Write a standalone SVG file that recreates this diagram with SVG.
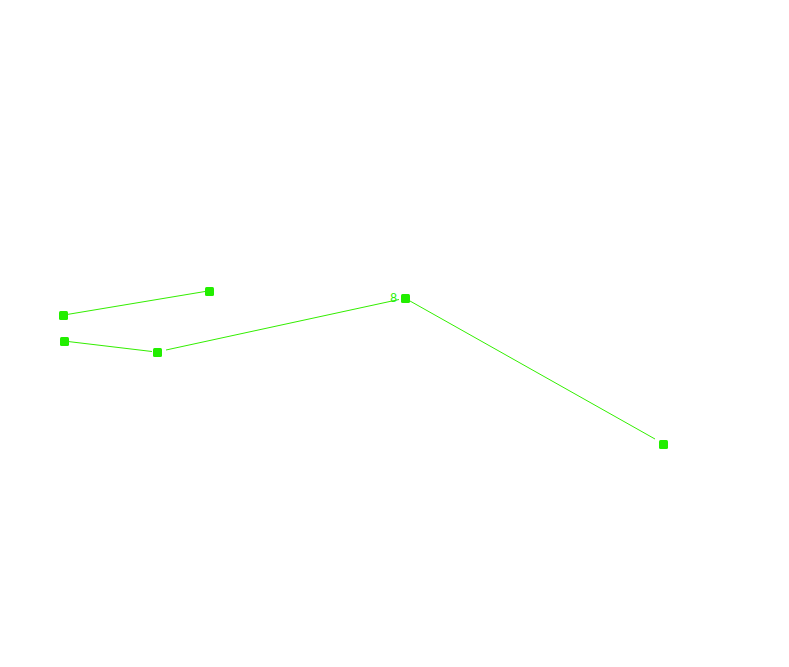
<svg xmlns="http://www.w3.org/2000/svg" width="789" height="667" viewBox="0 0 789 667">
<style>
.n{fill:#22ee00}
.e{stroke:#33ee00;stroke-width:1;fill:none}
.t{font-family:"Liberation Sans",Arial,sans-serif;font-size:12px;fill:#22ee00}
</style>
<rect width="789" height="667" fill="#fff"/>
<g id="connectors">
<line class="e" x1="67" y1="314.5" x2="205" y2="291.5"/>
<line class="e" x1="68" y1="341.5" x2="152" y2="351.5"/>
<line class="e" x1="166" y1="350" x2="399" y2="299.5"/>
<line class="e" x1="410" y1="301" x2="655" y2="439"/>
</g>
<g id="n1"><rect class="n" x="59" y="311" width="9" height="9" rx="1.5"/></g>
<g id="n2"><rect class="n" x="205" y="287" width="9" height="9" rx="1.5"/></g>
<g id="n3"><rect class="n" x="60" y="337" width="9" height="9" rx="1.5"/></g>
<g id="n4"><rect class="n" x="153" y="348" width="9" height="9" rx="1.5"/></g>
<g id="n5"><rect class="n" x="401" y="294" width="9" height="9" rx="1.5"/><text class="t" x="393.5" y="302" text-anchor="middle">8</text></g>
<g id="n6"><rect class="n" x="659" y="440" width="9" height="9" rx="1.5"/></g>
</svg>
